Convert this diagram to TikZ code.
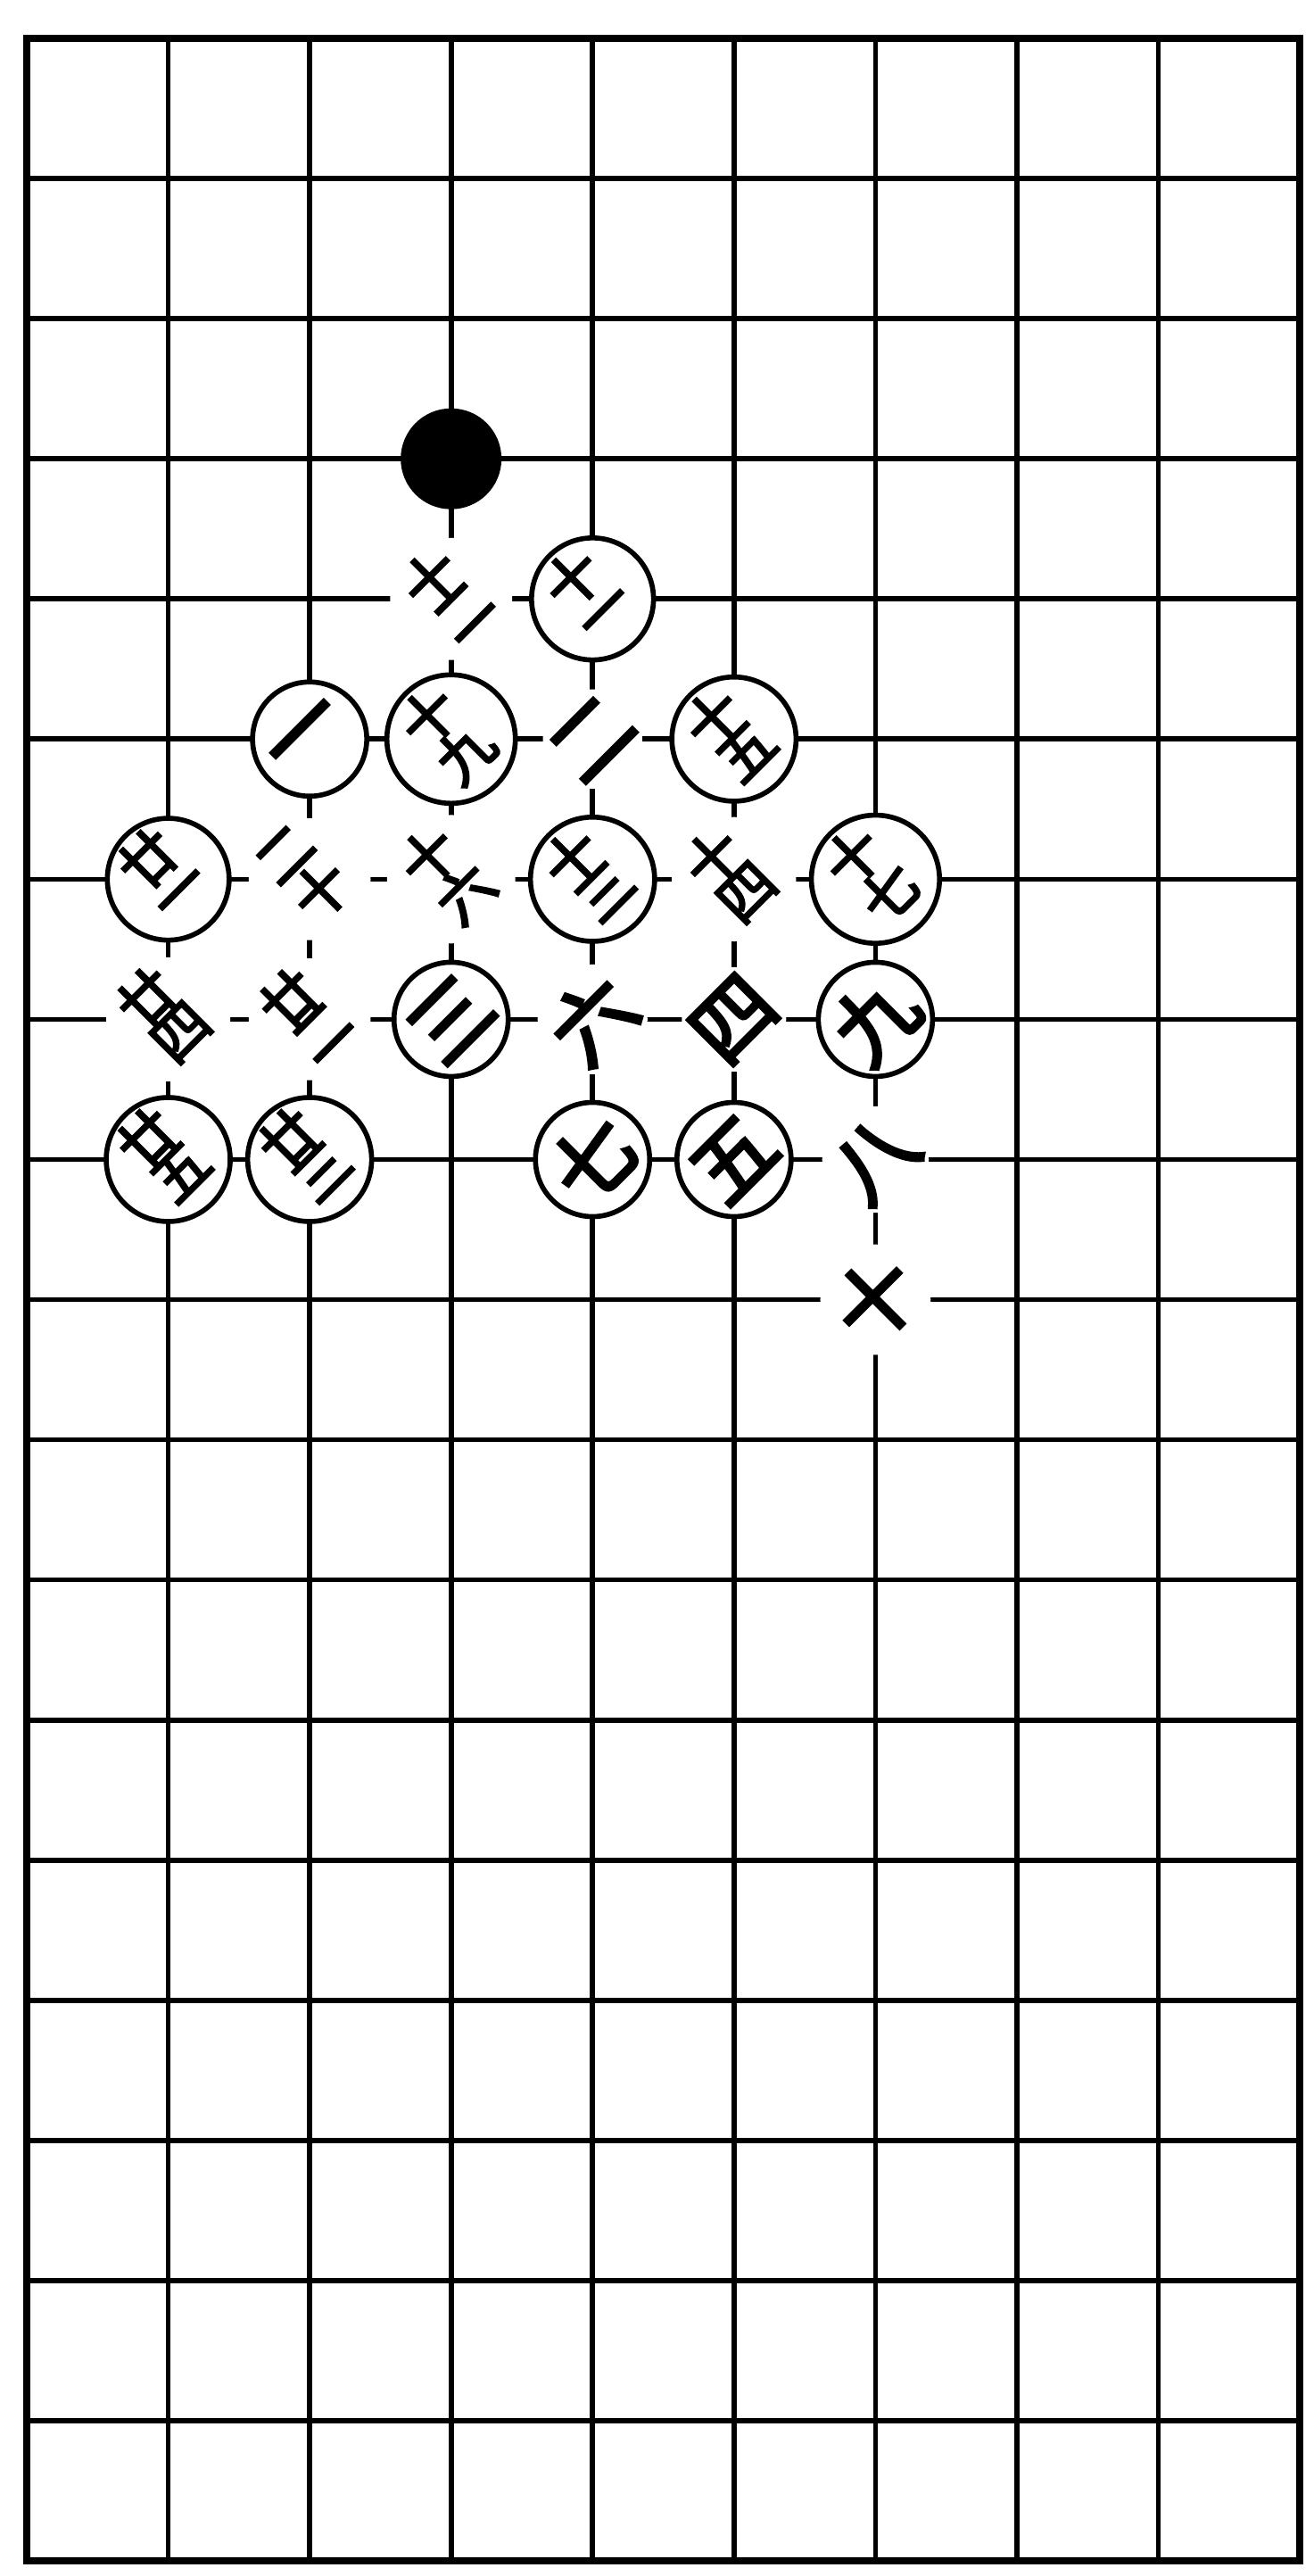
\documentclass[tikz,border=0pt]{standalone}
\usepackage{fontspec}
\newfontfamily\cjk[FakeBold=4]{Noto Sans CJK SC}
\newcommand\onech[1]{{\fontsize{26pt}{26pt}\selectfont #1}}
\newcommand\twoch[2]{{\fontsize{18pt}{18pt}\selectfont\begin{tabular}{@{}c@{}}#1\\[-4pt]#2\end{tabular}}}
\begin{document}
\begin{tikzpicture}[
  gridline/.style={line width=1.6pt},
  edgeline/.style={line width=2.2pt},
  wstone/.style={circle, draw, line width=1.6pt, fill=white, minimum size=1.28cm, inner sep=0pt, rotate=45, font=\cjk},
  bmove/.style={circle, fill=white, minimum size=0.95cm, inner sep=0pt, rotate=45, font=\cjk},
  bstone/.style={circle, fill=black, minimum size=1.13cm, inner sep=0pt}
]
\useasboundingbox (0,0) rectangle (14.73,-28.87);
\foreach \i in {0,...,9}{\foreach \j in {0,...,18}{\coordinate (p-\i-\j) at ({0.30+1.5856*\i},{-0.43-1.5706*\j});}}
% grid
\foreach \i in {1,...,8} \draw[gridline] (p-\i-0) -- (p-\i-18);
\foreach \j in {1,...,17} \draw[gridline] (p-0-\j) -- (p-9-\j);
\draw[edgeline] (p-0-0) rectangle (p-9-18);
% black stone
\node[bstone] (b0) at (p-3-3) {};
% white stones (circled)
\node[wstone] (w1)  at (p-2-5) {\onech{一}};
\node[wstone] (w3)  at (p-3-7) {\onech{三}};
\node[wstone] (w5)  at (p-5-8) {\onech{五}};
\node[wstone] (w7)  at (p-4-8) {\onech{七}};
\node[wstone] (w9)  at (p-6-7) {\onech{九}};
\node[wstone] (w11) at (p-4-4) {\twoch{十}{一}};
\node[wstone] (w13) at (p-4-6) {\twoch{十}{三}};
\node[wstone] (w15) at (p-5-5) {\twoch{十}{五}};
\node[wstone] (w17) at (p-6-6) {\twoch{十}{七}};
\node[wstone] (w19) at (p-3-5) {\twoch{十}{九}};
\node[wstone] (w21) at (p-1-6) {\twoch{廿}{一}};
\node[wstone] (w23) at (p-2-8) {\twoch{廿}{三}};
\node[wstone] (w25) at (p-1-8) {\twoch{廿}{五}};
% black moves (plain)
\node[bmove] (m2)  at (p-4-5) {\onech{二}};
\node[bmove] (m4)  at (p-5-7) {\onech{四}};
\node[bmove] (m6)  at (p-4-7) {\onech{六}};
\node[bmove] (m8)  at (p-6-8) {\onech{八}};
\node[bmove] (m10) at (p-6-9) {\onech{十}};
\node[bmove] (m12) at (p-3-4) {\twoch{十}{二}};
\node[bmove] (m14) at (p-5-6) {\twoch{十}{四}};
\node[bmove] (m16) at (p-3-6) {\twoch{十}{六}};
\node[bmove] (m20) at (p-2-6) {\twoch{二}{十}};
\node[bmove] (m22) at (p-2-7) {\twoch{廿}{二}};
\node[bmove] (m24) at (p-1-7) {\twoch{廿}{四}};
\end{tikzpicture}
\end{document}
